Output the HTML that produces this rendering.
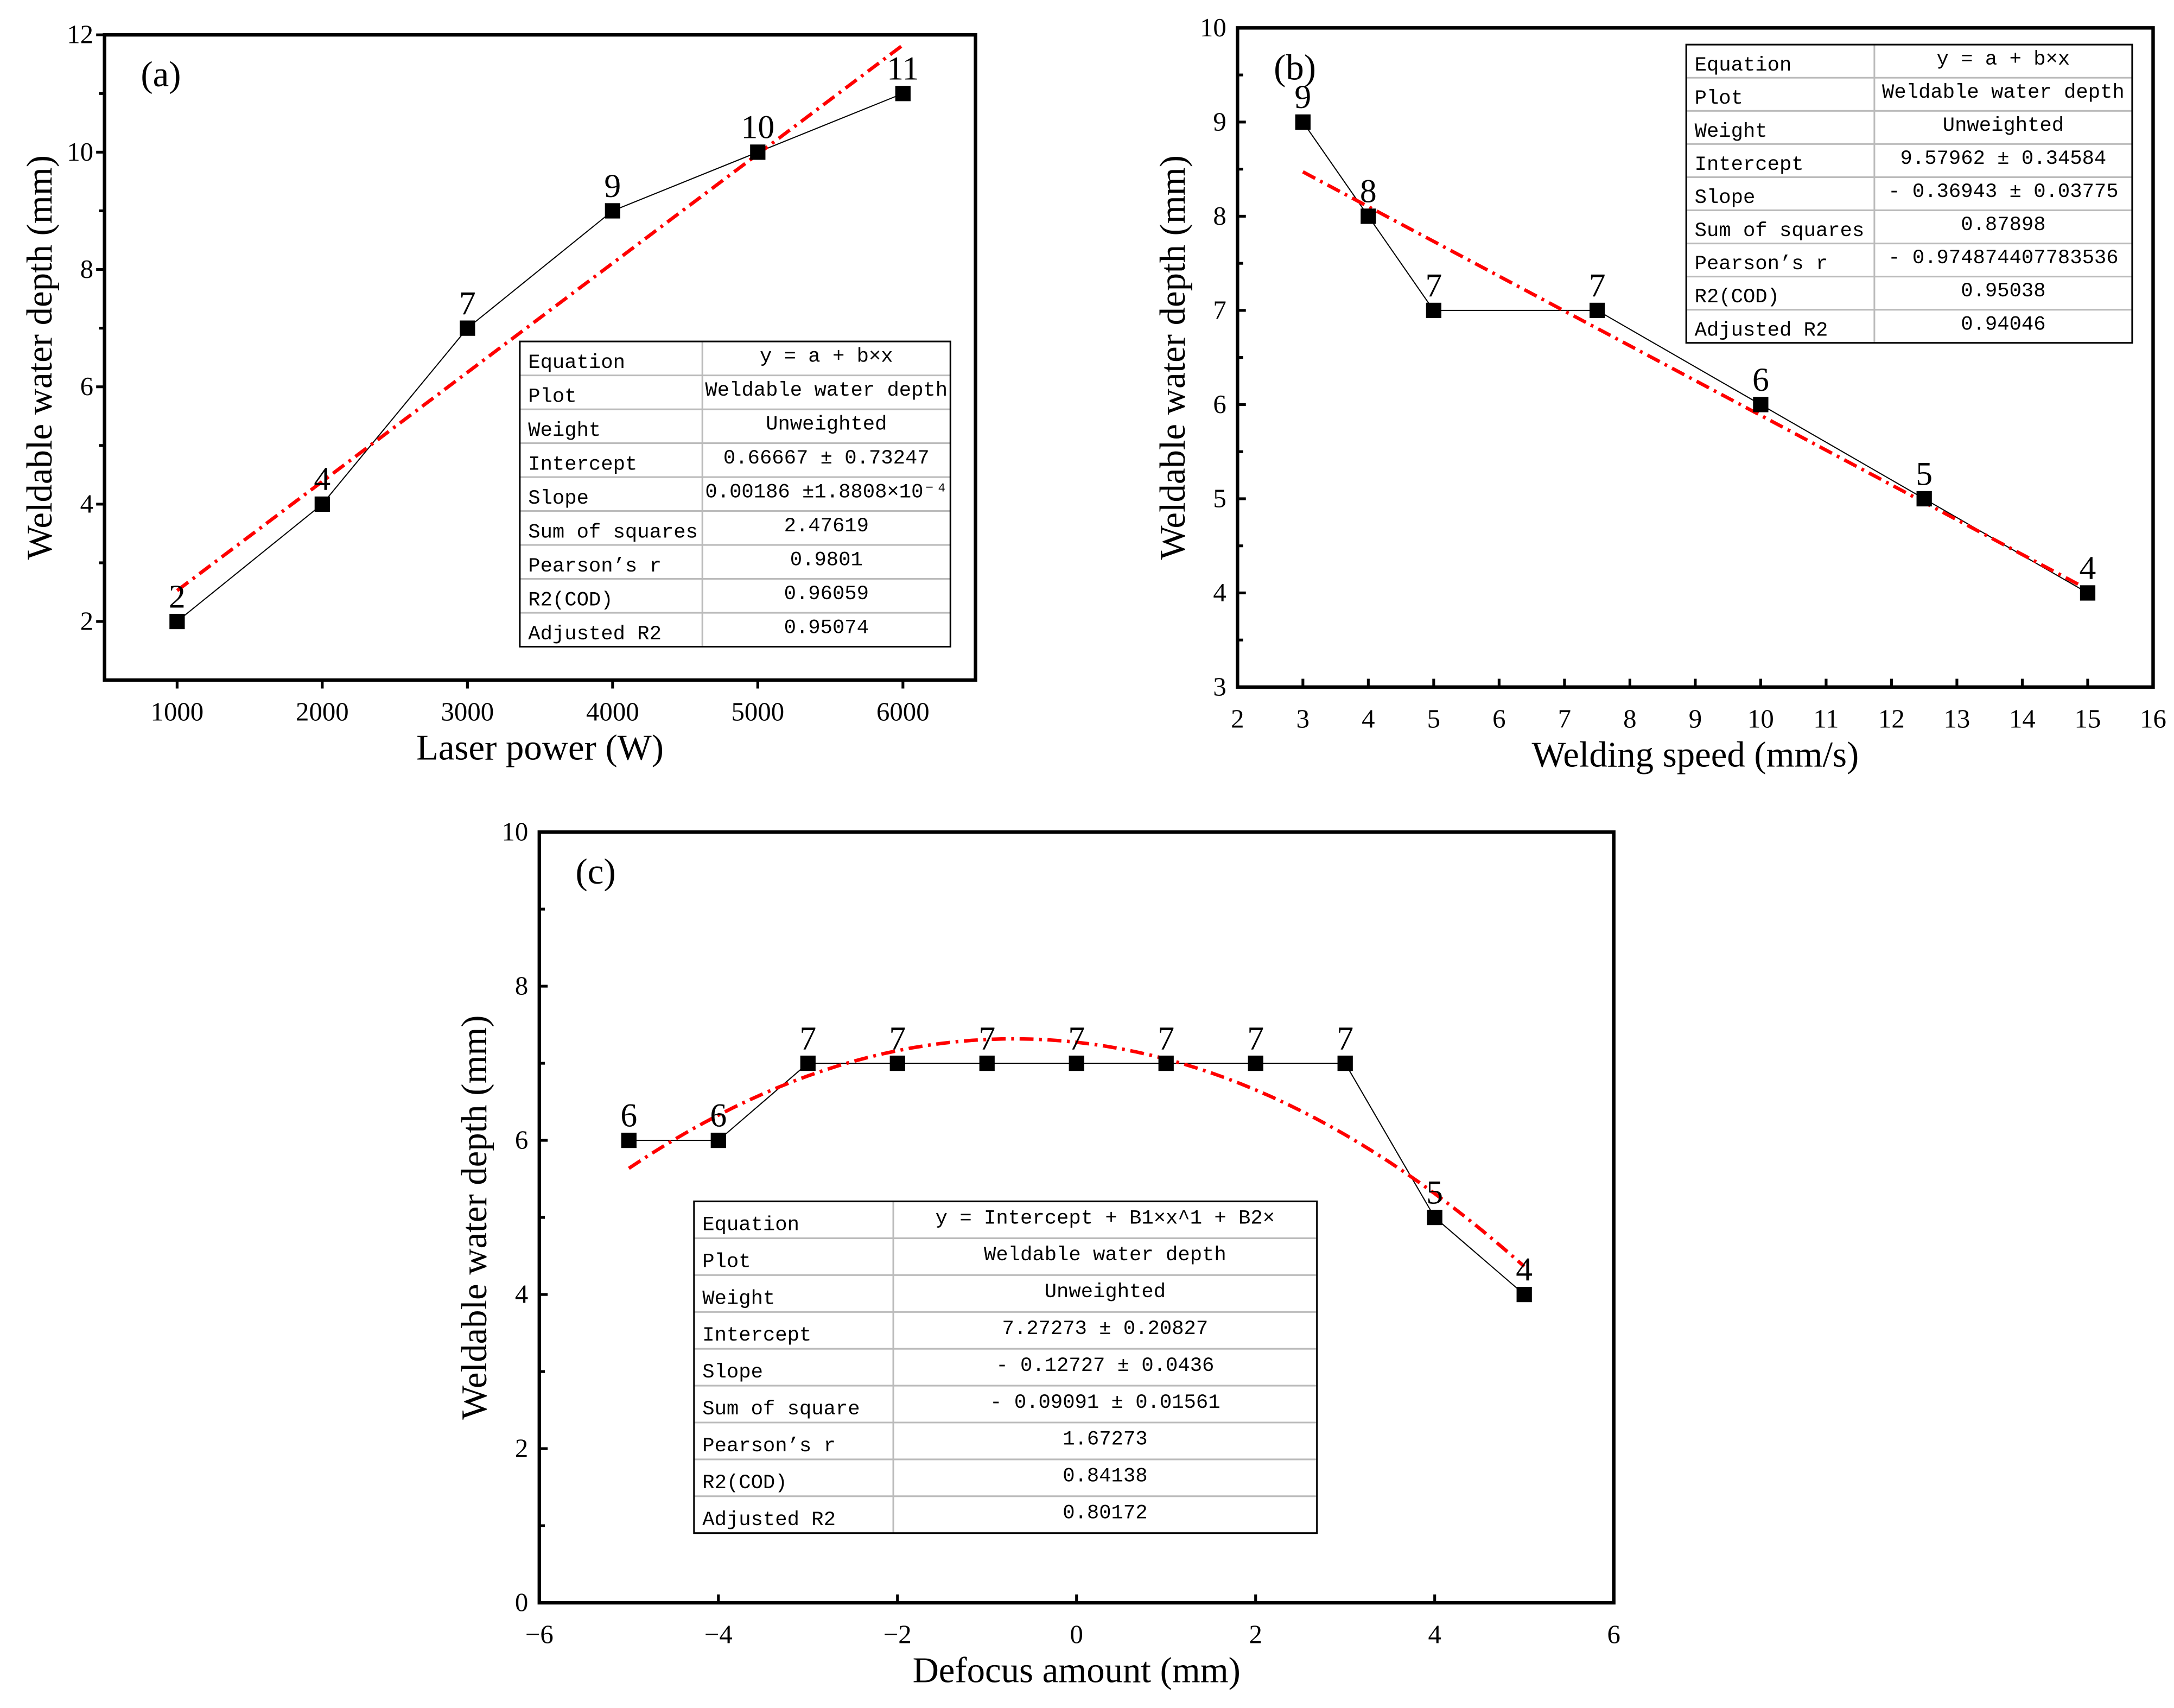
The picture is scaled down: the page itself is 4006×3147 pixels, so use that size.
<!DOCTYPE html>
<html><head><meta charset="utf-8"><style>
html,body{margin:0;padding:0;background:#fff}
svg{display:block}
.ax{font-family:"Liberation Serif",serif;font-size:19px;fill:#000}
.tt{font-family:"Liberation Serif",serif;font-size:26px;fill:#000}
.pl{font-family:"Liberation Serif",serif;font-size:24px;fill:#000}
.tb{font-family:"Liberation Mono",monospace;font-size:14.5px;fill:#000}
</style></head><body>
<svg id="fig" xmlns="http://www.w3.org/2000/svg" width="4006" height="3147" viewBox="0 0 1560 1225.5"></svg>
<script>
// Panel (a)
const aX = [1000,2000,3000,4000,5000,6000];
const aY = [2,4,7,9,10,11];
const aXTicks = [1000,2000,3000,4000,5000,6000];
const aYTicks = [2,4,6,8,10,12];
const aFit = [0.66667, 0.00186];
const aTable = [["Equation","y = a + b×x"],["Plot","Weldable water depth"],["Weight","Unweighted"],["Intercept","0.66667 ± 0.73247"],["Slope","0.00186 ±1.8808×10⁻⁴"],["Sum of squares","2.47619"],["Pearson’s r","0.9801"],["R2(COD)","0.96059"],["Adjusted R2","0.95074"]];
// Panel (b)
const bX = [3,4,5,7.5,10,12.5,15];
const bY = [9,8,7,7,6,5,4];
const bXTicks = [2,3,4,5,6,7,8,9,10,11,12,13,14,15,16];
const bYTicks = [3,4,5,6,7,8,9,10];
const bFit = [9.57962, -0.36943];
const bTable = [["Equation","y = a + b×x"],["Plot","Weldable water depth"],["Weight","Unweighted"],["Intercept","9.57962 ± 0.34584"],["Slope","- 0.36943 ± 0.03775"],["Sum of squares","0.87898"],["Pearson’s r","- 0.974874407783536"],["R2(COD)","0.95038"],["Adjusted R2","0.94046"]];
// Panel (c)
const cX = [-5,-4,-3,-2,-1,0,1,2,3,4,5];
const cY = [6,6,7,7,7,7,7,7,7,5,4];
const cXTicks = [-6,-4,-2,0,2,4,6];
const cYTicks = [0,2,4,6,8,10];
const cFit = [7.27273, -0.12727, -0.09091];
const cTable = [["Equation","y = Intercept + B1×x^1 + B2×"],["Plot","Weldable water depth"],["Weight","Unweighted"],["Intercept","7.27273 ± 0.20827"],["Slope","- 0.12727 ± 0.0436"],["Sum of square","- 0.09091 ± 0.01561"],["Pearson’s r","1.67273"],["R2(COD)","0.84138"],["Adjusted R2","0.80172"]];

const NS="http://www.w3.org/2000/svg";
const svg=document.getElementById('fig');
function mk(tag,attrs,parent,text){const e=document.createElementNS(NS,tag);for(const k in attrs)e.setAttribute(k,attrs[k]);if(text!==undefined)e.textContent=text;(parent||svg).appendChild(e);return e;}

function panel(cfg){
  const g=mk('g',{});
  
  
  const sx=v=>cfg.L+(v-cfg.x0)/(cfg.x1-cfg.x0)*(cfg.R-cfg.L);
  const sy=v=>cfg.B-(v-cfg.y0)/(cfg.y1-cfg.y0)*(cfg.B-cfg.T);
  const dir=cfg.out?1:-1;
  cfg.xt.forEach(v=>{
    const l=mk('line',{x1:sx(v),x2:sx(v),y1:cfg.B,y2:cfg.B+dir*6,stroke:'#000','stroke-width':2},g);
    
    const t=mk('text',{x:sx(v),y:cfg.B+29,'text-anchor':'middle',class:'ax'},g,String(v).replace('-','−'));
    
  });
  cfg.yt.forEach((v,i)=>{
    const l=mk('line',{x1:cfg.L,x2:cfg.L-dir*6,y1:sy(v),y2:sy(v),stroke:'#000','stroke-width':2},g);
    
    const t=mk('text',{x:cfg.L-8,y:sy(v)+6,'text-anchor':'end',class:'ax'},g,String(v));
    
    if(i<cfg.yt.length-1){const m=(v+cfg.yt[i+1])/2;
      const mm=mk('line',{x1:cfg.L,x2:cfg.L-dir*4,y1:sy(m),y2:sy(m),stroke:'#000','stroke-width':2},g);
      }
  });
  let d='';for(let i=0;i<=60;i++){const x=cfg.fx0+(cfg.fx1-cfg.fx0)*i/60;const y=cfg.fit.reduce((s,c,k)=>s+c*Math.pow(x,k),0);d+=(i?'L':'M')+sx(x).toFixed(2)+','+sy(y).toFixed(2);}
  const pts=cfg.X.map((x,i)=>sx(x)+','+sy(cfg.Y[i])).join(' ');
  const pl=mk('polyline',{points:pts,fill:'none',stroke:'#000','stroke-width':0.8},g);
  
  const fp=mk('path',{d:d,fill:'none',stroke:'#f00','stroke-width':2.5,'stroke-dasharray':'10 4 2 4'},g);
  
  cfg.X.forEach((x,i)=>{
    const r=mk('rect',{x:sx(x)-5.5,y:sy(cfg.Y[i])-5.5,width:11,height:11,fill:'#000'},g);
    
    const t=mk('text',{x:sx(x),y:sy(cfg.Y[i])-10,'text-anchor':'middle',class:'pl'},g,String(cfg.Y[i]));
    
  });
  const f=mk('rect',{x:cfg.L,y:cfg.T,width:cfg.R-cfg.L,height:cfg.B-cfg.T,fill:'none',stroke:'#000','stroke-width':2.5},g);
  
  const pt=mk('text',{x:cfg.L+26,y:cfg.T+37,class:'tt'},g,cfg.label);
  
  const xt=mk('text',{x:(cfg.L+cfg.R)/2,y:cfg.B+57,'text-anchor':'middle',class:'tt'},g,cfg.xTitle);
  
  const yx=cfg.L-38, yy=(cfg.T+cfg.B)/2;
  const yt=mk('text',{x:yx,y:yy,'text-anchor':'middle',class:'tt',transform:`rotate(-90 ${yx} ${yy})`},g,'Weldable water depth (mm)');
  
  const tg=mk('g',{},g);
  const tb=cfg.tab, rh=(tb.B-tb.T)/cfg.rows.length;
  mk('rect',{x:tb.L,y:tb.T,width:tb.R-tb.L,height:tb.B-tb.T,fill:'#fff',stroke:'none'},tg);
  for(let i=1;i<cfg.rows.length;i++)mk('line',{x1:tb.L,x2:tb.R,y1:tb.T+i*rh,y2:tb.T+i*rh,stroke:'#bbb','stroke-width':1.2},tg);
  mk('line',{x1:tb.M,x2:tb.M,y1:tb.T,y2:tb.B,stroke:'#bbb','stroke-width':1.2},tg);
  mk('rect',{x:tb.L,y:tb.T,width:tb.R-tb.L,height:tb.B-tb.T,fill:'none',stroke:'#000','stroke-width':1.2},tg);
  cfg.rows.forEach((r,i)=>{
    const a=mk('text',{x:tb.L+6,y:tb.T+i*rh+rh*0.78,class:'tb'},tg,r[0]);
    
    const b=mk('text',{x:(tb.M+tb.R)/2,y:tb.T+i*rh+rh*0.6,'text-anchor':'middle',class:'tb'},tg,r[1]);
    
  });
}
panel({name:'panel-a',label:'(a)',L:75,R:700,T:25,B:488,x0:500,x1:6500,y0:1,y1:12,X:aX,Y:aY,xt:aXTicks,yt:aYTicks,fit:aFit,fx0:1000,fx1:6000,out:true,xTitle:'Laser power (W)',rows:aTable,tab:{L:373,M:504,R:682,T:245,B:464}});
panel({name:'panel-b',label:'(b)',L:888,R:1545,T:20,B:493,x0:2,x1:16,y0:3,y1:10,X:bX,Y:bY,xt:bXTicks,yt:bYTicks,fit:bFit,fx0:3,fx1:15,out:false,xTitle:'Welding speed (mm/s)',rows:bTable,tab:{L:1210,M:1345,R:1530,T:32,B:246}});
panel({name:'panel-c',label:'(c)',L:387,R:1158,T:597,B:1150,x0:-6,x1:6,y0:0,y1:10,X:cX,Y:cY,xt:cXTicks,yt:cYTicks,fit:cFit,fx0:-5,fx1:5,out:false,xTitle:'Defocus amount (mm)',rows:cTable,tab:{L:498,M:641,R:945,T:862,B:1100}});
</script>
</body></html>
